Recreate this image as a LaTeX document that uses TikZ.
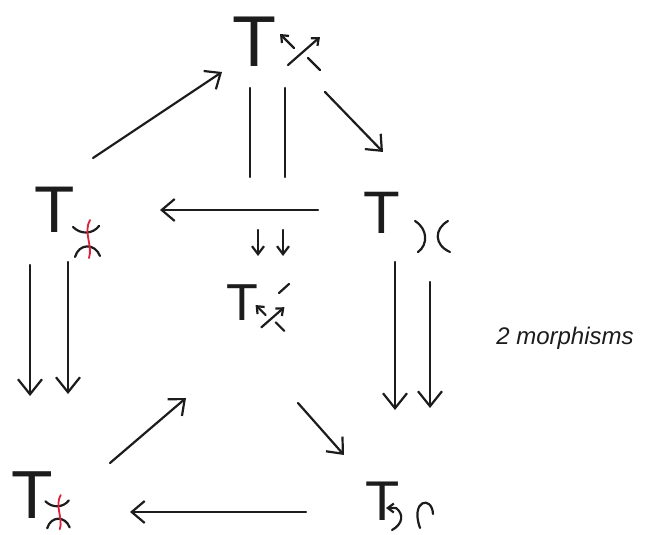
\documentclass[tikz,border=0pt]{standalone}
\usepackage{fontspec}
\setmainfont{Liberation Sans}
\usetikzlibrary{arrows.meta}
\definecolor{inkc}{HTML}{1C1C1C}
\definecolor{redc}{HTML}{E0203A}
\begin{document}
\begin{tikzpicture}[x=1pt,y=-1pt,
  ink/.style={line width=2.2pt, draw=inkc, line cap=round, line join=round},
  redink/.style={line width=1.8pt, draw=redc, line cap=round},
  arr/.style={ink, -{Straight Barb[length=13pt,width=22pt]}},
  sarr/.style={ink, -{Straight Barb[length=8pt,width=12pt]}},
  varr/.style={ink, -{Straight Barb[length=15pt,width=24pt]}},
  Tlab/.style={inner sep=0pt, anchor=base, text=inkc},
  pics/crossing/.style={code={
    \draw[ink,-{Straight Barb[length=6pt,width=10pt]}] (-12,13) -- (20,-15);
    \draw[ink] (20,18) -- (8,6);
    \draw[ink,-{Straight Barb[length=6pt,width=10pt]}] (-6,-4) -- (-20,-18);
  }},
  pics/saddle/.style={code={
    \draw[ink] (-14,-13) .. controls (-6,-5) and (6,-6) .. (12,-14);
    \draw[ink] (-12,17) .. controls (-8,3) and (8,3) .. (13,16);
    \draw[redink] (3,-20) .. controls (-4,-8) and (6,6) .. (2,18);
  }},
  pics/smooth/.style={code={
    \draw[ink] (-17,-16) .. controls (-4,-8) and (-4,8) .. (-14,15);
    \draw[ink] (16,-16) .. controls (2,-8) and (2,8) .. (18,15);
  }}
]
\useasboundingbox[fill=white] (0,0) rectangle (646,535);

% T nodes
\node[Tlab, font=\fontsize{72}{72}\selectfont] (tT) at (254,67) {T};
\node[Tlab, font=\fontsize{66}{66}\selectfont] (lT) at (55,232) {T};
\node[Tlab, font=\fontsize{60}{60}\selectfont] (rT) at (382,233) {T};
\node[Tlab, font=\fontsize{52}{52}\selectfont] (mT) at (242,320) {T};
\node[Tlab, font=\fontsize{68}{68}\selectfont] (blT) at (32,518) {T};
\node[Tlab, font=\fontsize{56}{56}\selectfont] (brT) at (383,520) {T};

% subscripts
\pic at (300,52) {crossing};
\pic[scale=0.72] at (270,318) {crossing};
\draw[ink] (279,293) -- (289,284);
\pic at (87,240) {saddle};
\pic[scale=0.9] at (58,513) {saddle};
\pic at (432,237) {smooth};
\draw[ink,{Straight Barb[length=6pt,width=9pt]}-] (386,508) -- (396,508) .. controls (404,514) and (403,524) .. (392,530);
\draw[ink] (420,528) .. controls (410,500) and (432,495) .. (433,514);

% connector endpoints
\coordinate (a1s) at (93,158);  \coordinate (a1e) at (222,72);
\coordinate (a2s) at (325,92);  \coordinate (a2e) at (383,152);
\coordinate (h1s) at (318,210); \coordinate (h1e) at (160,210);
\coordinate (v1a) at (250,88);  \coordinate (v1b) at (250,177);
\coordinate (v2a) at (285,88);  \coordinate (v2b) at (285,177);
\coordinate (d1s) at (258,230); \coordinate (d1e) at (258,256);
\coordinate (d2s) at (283,230); \coordinate (d2e) at (283,256);
\coordinate (l1s) at (30,265);  \coordinate (l1e) at (30,396);
\coordinate (l2s) at (68,262);  \coordinate (l2e) at (68,394);
\coordinate (r1s) at (395,262); \coordinate (r1e) at (395,410);
\coordinate (r2s) at (430,282); \coordinate (r2e) at (430,408);
\coordinate (b1s) at (110,463); \coordinate (b1e) at (186,398);
\coordinate (b2s) at (298,403); \coordinate (b2e) at (344,455);
\coordinate (h2s) at (306,512); \coordinate (h2e) at (130,512);

\draw[arr] (a1s) -- (a1e);
\draw[arr] (a2s) -- (a2e);
\draw[arr] (h1s) -- (h1e);
\draw[ink] (v1a) -- (v1b);
\draw[ink] (v2a) -- (v2b);
\draw[sarr] (d1s) -- (d1e);
\draw[sarr] (d2s) -- (d2e);
\draw[varr] (l1s) -- (l1e);
\draw[varr] (l2s) -- (l2e);
\draw[varr] (r1s) -- (r1e);
\draw[varr] (r2s) -- (r2e);
\draw[arr] (b1s) -- (b1e);
\draw[arr] (b2s) -- (b2e);
\draw[arr] (h2s) -- (h2e);

\node[font=\fontsize{24}{24}\selectfont\itshape, text=inkc, inner sep=0pt] (lbl) at (565,338) {2 morphisms};
\end{tikzpicture}
\end{document}
